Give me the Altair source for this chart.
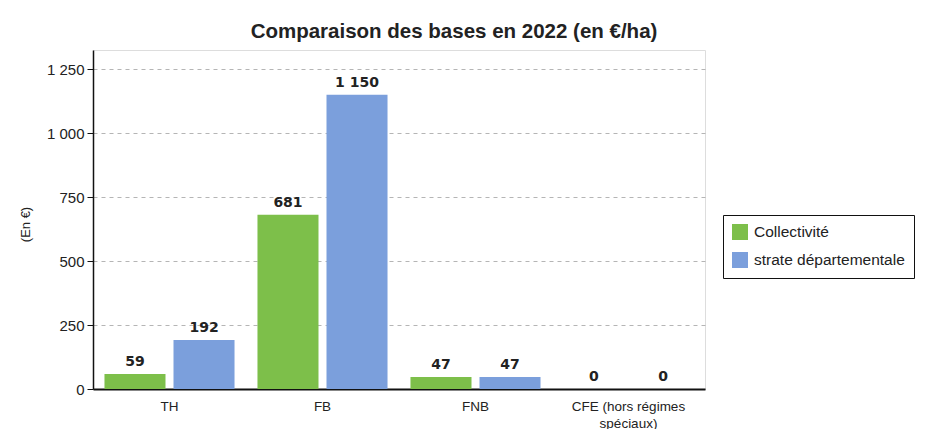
import altair as alt
import pandas as pd

categories = ["TH", "FB", "FNB", "CFE (hors régimes spéciaux)"]
series = ["Collectivité", "strate départementale"]
collectivite = [59, 681, 47, 0]
strate = [192, 1150, 47, 0]
colors = ["#7dbf4a", "#7b9fdc"]
y_ticks = [0, 250, 500, 750, 1000, 1250]

rows = []
for c, a, b in zip(categories, collectivite, strate):
    rows.append({"cat": c, "serie": series[0], "val": a})
    rows.append({"cat": c, "serie": series[1], "val": b})
df = pd.DataFrame(rows)

FONT = "Liberation Sans"

x_enc = alt.X(
    "cat:N", sort=categories, title=None,
    scale=alt.Scale(paddingInner=0.15, paddingOuter=0.075),
    axis=alt.Axis(
        labelAngle=0, ticks=False, grid=False, domainColor="#111", domainWidth=2,
        labelFont=FONT, labelFontSize=13.5, labelColor="#222", labelPadding=10,
        labelLineHeight=17,
        labelExpr="datum.value == 'CFE (hors régimes spéciaux)' ? ['CFE (hors régimes', 'spéciaux)'] : datum.value",
    ),
)
xo_enc = alt.XOffset("serie:N", sort=series, scale=alt.Scale(paddingInner=0.116, paddingOuter=0))
y_enc = alt.Y(
    "val:Q", scale=alt.Scale(domain=[0, 1325], nice=False),
    axis=alt.Axis(
        values=y_ticks, grid=True, gridDash=[4, 4], gridColor="#b5b5b5", gridWidth=1,
        domainColor="#111", domainWidth=1.5, tickColor="#111", tickSize=6,
        labelFont=FONT, labelFontSize=15, labelColor="#222", labelPadding=3,
        labelExpr="replace(format(datum.value, ','), ',', ' ')",
        title="(En €)", titleFont=FONT, titleFontSize=13, titleFontWeight="normal",
        titleColor="#222", titleX=-68, titleY=174, titleAngle=-90,
        titleAlign="center", titleBaseline="middle",
    ),
)

bars = alt.Chart(df).mark_bar().encode(
    x=x_enc, xOffset=xo_enc, y=y_enc,
    color=alt.Color(
        "serie:N", sort=series, scale=alt.Scale(domain=series, range=colors),
        legend=alt.Legend(
            title=None, orient="none", legendX=630, legendY=165,
            strokeColor="#111", fillColor="white", padding=9,
            symbolType="square", symbolSize=256, symbolStrokeWidth=0, symbolOpacity=1,
            labelFont=FONT, labelFontSize=15.5, labelColor="#222", labelOffset=6,
            rowPadding=11,
        ),
    ),
)

labels = alt.Chart(df).transform_calculate(
    lab="replace(format(datum.val, ','), ',', ' ')"
).mark_text(
    baseline="alphabetic", dy=-8, font="DejaVu Sans", fontWeight="bold", fontSize=14, color="#222"
).encode(x=alt.X("cat:N", sort=categories), xOffset=alt.XOffset("serie:N", sort=series), y="val:Q", text="lab:N")

chart = (bars + labels).properties(
    width=612, height=339,
    autosize=alt.AutoSizeParams(type="none"),
    padding={"left": 85, "top": 42, "right": 217, "bottom": 40},
    title=alt.TitleParams(
        "Comparaison des bases en 2022 (en €/ha)", font=FONT, fontSize=20.5, fontWeight="bold",
        color="#222", anchor="middle", dx=55, offset=8,
    ),
).configure_view(stroke=None).configure_legend(strokeWidth=2).configure(background="white")

chart.save("out.html", embed_options={"renderer": "svg", "actions": False})
